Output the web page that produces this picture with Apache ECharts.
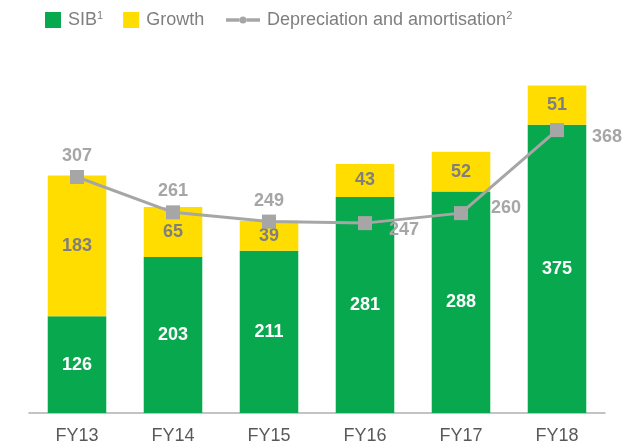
<!DOCTYPE html>
<html>
<head>
<meta charset="utf-8">
<script src="https://cdn.jsdelivr.net/npm/echarts@6/dist/echarts.min.js"></script>
<style>
  html, body { margin: 0; padding: 0; background: #fff; }
  #chart { width: 622px; height: 445px; }
</style>
</head>
<body>
<div id="chart"></div>
<script>
const years = ['FY13', 'FY14', 'FY15', 'FY16', 'FY17', 'FY18'];
const sib = [126, 203, 211, 281, 288, 375];
const growth = [183, 65, 39, 43, 52, 51];
const depreciation = [307, 261, 249, 247, 260, 368];

const font = '"Liberation Sans", Arial, sans-serif';

let myChart = echarts.init(document.getElementById('chart'));

// label placement for each line point
const lineLabels = [
  { position: 'top', distance: 5 },
  { position: 'top', distance: 5 },
  { position: 'top', distance: 5 },
  { position: 'right', distance: 17, offset: [0, 7] },
  { position: 'right', distance: 23, offset: [0, -5] },
  { position: 'right', distance: 28, offset: [0, 7] }
];

// thin line with a dot in the middle, like the original legend
const lineIcon = 'path://M0,1.8L13.4,1.8L13.4,5.2L0,5.2Z M20.6,1.8L34,1.8L34,5.2L20.6,5.2Z M13.5,3.5A3.5,3.5 0 1,0 20.5,3.5A3.5,3.5 0 1,0 13.5,3.5Z';

const legendText = {
  color: '#7f7f7f',
  fontSize: 18,
  fontFamily: font,
  padding: [0, 0, 0, 2],
  rich: {
    sup: { fontSize: 11, color: '#7f7f7f', fontFamily: font, verticalAlign: 'top', padding: [0, 0, 9, 0] }
  }
};

let option = {
  animation: false,
  legend: [
    {
      data: [{ name: 'SIB', icon: 'rect' }, { name: 'Growth', icon: 'rect' }],
      left: 40,
      top: 5,
      itemWidth: 16,
      itemHeight: 16,
      itemGap: 20,
      textStyle: legendText,
      formatter: name => name === 'SIB' ? 'SIB{sup|1}' : name
    },
    {
      data: [{ name: 'Depreciation and amortisation', icon: lineIcon }],
      left: 221,
      top: 5,
      itemWidth: 34,
      itemHeight: 7,
      textStyle: legendText,
      formatter: name => name + '{sup|2}'
    }
  ],
  grid: { left: 29, right: 17, top: 44, bottom: 30 },
  xAxis: {
    type: 'category',
    data: years,
    axisTick: { show: false },
    axisLine: { lineStyle: { color: '#b0b0b0', width: 1.5 } },
    axisLabel: { color: '#595959', fontSize: 18, fontFamily: font, margin: 14 }
  },
  yAxis: { type: 'value', min: 0, max: 480, show: false },
  series: [
    {
      name: 'SIB',
      type: 'bar',
      stack: 'capex',
      barWidth: '61%',
      itemStyle: { color: '#08a84e' },
      label: { show: true, position: 'inside', color: '#fff', fontWeight: 'bold', fontSize: 18, fontFamily: font },
      data: sib
    },
    {
      name: 'Growth',
      type: 'bar',
      stack: 'capex',
      itemStyle: { color: '#ffdd00' },
      label: { show: true, position: 'inside', color: '#7f7f7f', fontWeight: 'bold', fontSize: 18, fontFamily: font },
      data: growth
    },
    {
      name: 'Depreciation and amortisation',
      type: 'line',
      symbol: 'rect',
      symbolSize: 14,
      lineStyle: { color: '#a6a6a6', width: 3 },
      itemStyle: { color: '#a6a6a6' },
      z: 5,
      label: { show: true, color: '#a6a6a6', fontWeight: 'bold', fontSize: 18, fontFamily: font },
      data: depreciation.map((v, i) => ({ value: v, label: lineLabels[i] }))
    }
  ]
};

option && myChart.setOption(option);
</script>
</body>
</html>
